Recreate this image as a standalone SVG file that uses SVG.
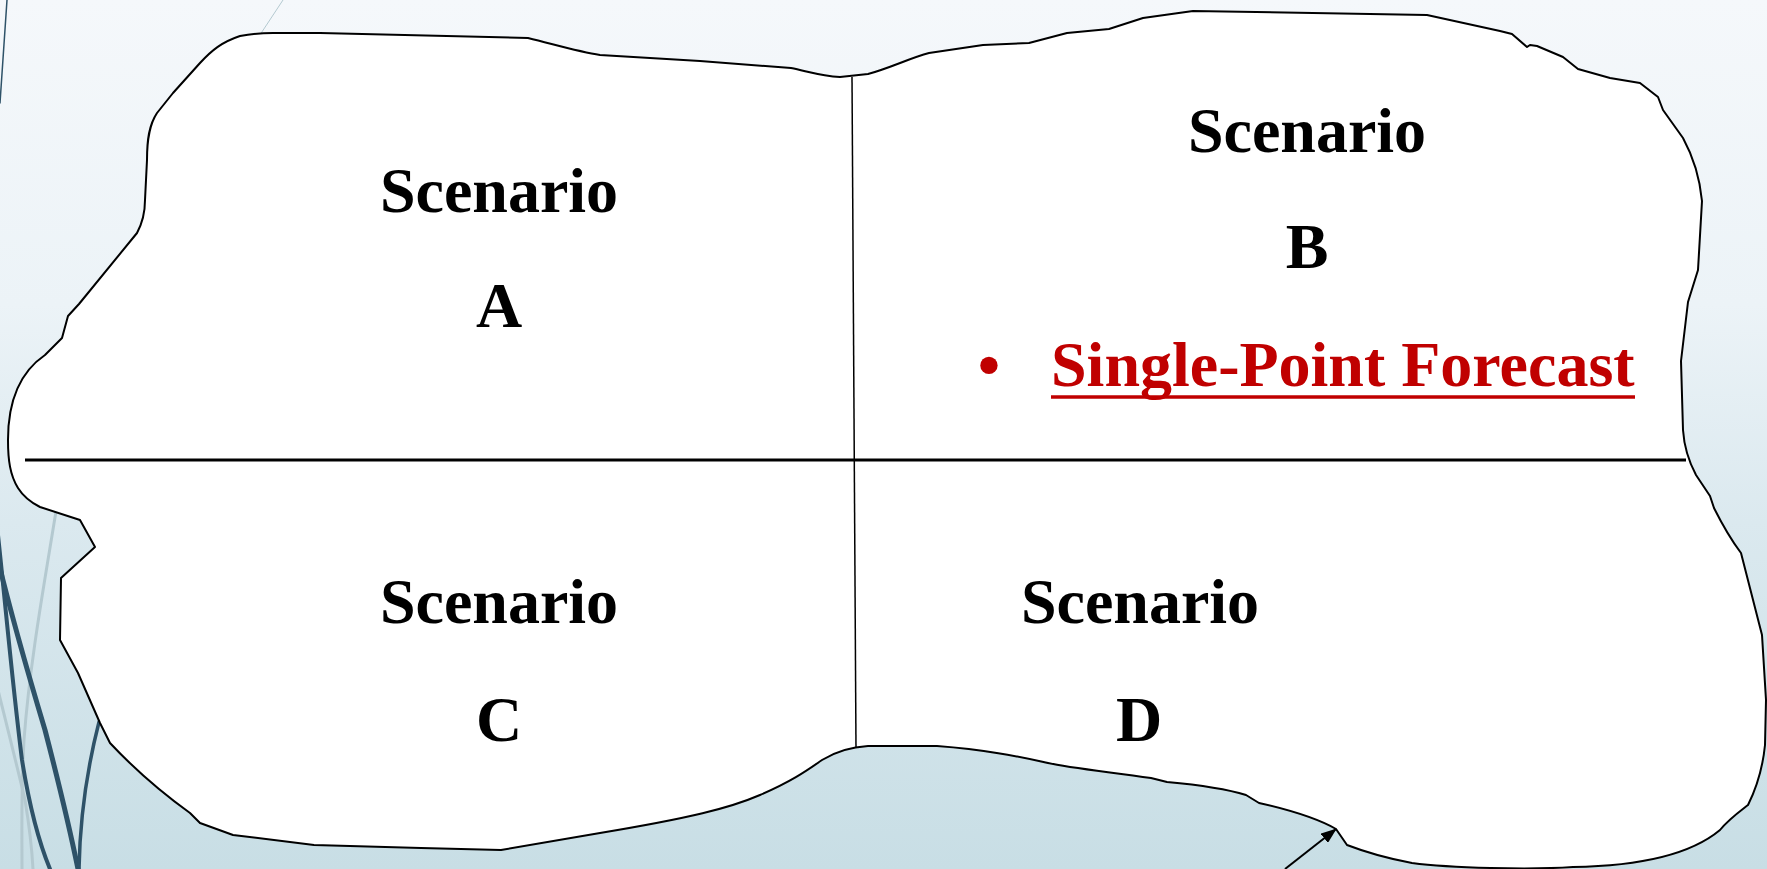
<svg xmlns="http://www.w3.org/2000/svg" width="1767" height="869" viewBox="0 0 1767 869">
  <defs>
    <linearGradient id="bg" x1="0" y1="0" x2="0" y2="1">
      <stop offset="0" stop-color="#f5f8fb"/>
      <stop offset="0.35" stop-color="#ecf3f7"/>
      <stop offset="0.6" stop-color="#dbe9ef"/>
      <stop offset="1" stop-color="#c8dee5"/>
    </linearGradient>
    <marker id="arrow" markerUnits="userSpaceOnUse" markerWidth="16" markerHeight="12" refX="15" refY="6" viewBox="0 0 16 12" orient="auto">
      <path d="M0,0 L16,6 L0,12 z" fill="#000"/>
    </marker>
    <style>
      .lbl { font-family: "Liberation Serif", "Times New Roman", serif; font-weight: bold; font-size: 64px; fill: #000; text-anchor: middle; }
      .red { font-family: "Liberation Serif", "Times New Roman", serif; font-weight: bold; font-size: 64px; fill: #c00000; }
      .deco { fill: none; stroke: #2e5268; stroke-linecap: round; }
      .decol { fill: none; stroke: #b4c9d0; stroke-linecap: round; }
    </style>
  </defs>

  <g id="background">
    <rect x="0" y="0" width="1767" height="869" fill="url(#bg)"/>
    <path class="deco" d="M7,0 L0,103" stroke-width="1.5"/>
    <path class="decol" d="M283,0 L250,50" stroke-width="1" stroke="#d3dde2"/>
    <path class="decol" d="M57,505 C45,580 30,660 24,740 C21,790 22,830 22,869" stroke-width="3"/>
    <path class="decol" d="M-2,690 C8,730 18,770 25,800 C30,830 32,850 33,869" stroke-width="3"/>
    <path class="deco" d="M-2,535 C5,600 12,680 22,760 C30,810 40,845 50,869" stroke-width="4"/>
    <path class="deco" d="M-2,560 C10,610 30,680 45,730 C58,780 70,830 78,869" stroke-width="5"/>
    <path class="deco" d="M99,722 C88,765 80,815 79,869" stroke-width="3.5"/>
  </g>

  <g id="blob">
    <path d="M320,33 L528,38 C560,46 580,52 600,55 L700,61 L791,68 C810,72 822,76 840,77 L868,74 C890,68 910,58 929,53 L983,45 L1029,43 L1067,33 L1109,29 L1143,18 L1193,11 L1427,15 L1500,31 L1512,34 L1527,47 L1530,45 L1537,46 L1563,57 L1578,69 L1610,78 L1640,83 L1658,97 L1663,110 L1683,138 C1695,160 1700,180 1702,201 L1698,270 L1688,302 L1681,361 L1683,430 C1684,445 1688,460 1696,475 L1710,496 L1714,508 C1725,530 1735,545 1741,553 L1762,635 L1766,700 L1765,745 C1763,765 1758,785 1748,805 C1735,815 1728,820 1720,830 C1690,855 1640,866 1573,867 C1530,870 1450,868 1412,863 C1385,858 1360,850 1347,845 L1336,829 C1320,820 1290,810 1259,803 L1246,795 C1230,790 1200,785 1167,782 L1151,778 C1110,772 1070,768 1048,763 C1020,757 990,750 937,746 L868,746 C850,747 835,752 822,760 C805,772 790,782 760,795 C730,808 690,818 600,833 L501,850 L421,848 L314,845 L233,835 L200,823 L190,813 C165,795 140,775 110,743 L100,723 L78,673 L72,662 L60,640 L61,578 L95,547 L80,520 L40,507 C30,502 23,496 18,488 C10,475 8,460 8,440 C8,400 20,372 45,355 L62,338 L68,316 L79,304 L137,233 C144,220 145,210 145,200 L147,160 C147,140 149,125 157,113 L173,93 L200,63 C212,50 222,42 240,36 C255,33 265,33 273,33 Z" fill="#fff" stroke="#000" stroke-width="2" stroke-linejoin="round"/>
  </g>

  <g id="dividers">
    <line x1="25" y1="460" x2="1686" y2="460" stroke="#000" stroke-width="3"/>
    <line x1="852" y1="77" x2="856" y2="748" stroke="#000" stroke-width="1.5"/>
  </g>

  <g id="scenario-a">
    <text class="lbl" x="499" y="212">Scenario</text>
    <text class="lbl" x="499" y="327">A</text>
  </g>

  <g id="scenario-b">
    <text class="lbl" x="1307" y="152">Scenario</text>
    <text class="lbl" x="1307" y="268">B</text>
    <text class="red" x="989" y="386" text-anchor="middle">•</text>
    <text class="red" x="1051" y="386">Single-Point Forecast</text>
    <line x1="1051" y1="397" x2="1635" y2="397" stroke="#c00000" stroke-width="3.5"/>
  </g>

  <g id="scenario-c">
    <text class="lbl" x="499" y="623">Scenario</text>
    <text class="lbl" x="499" y="741">C</text>
  </g>

  <g id="scenario-d">
    <text class="lbl" x="1140" y="623">Scenario</text>
    <text class="lbl" x="1139" y="741">D</text>
  </g>

  <g id="connectors">
    <line x1="1285" y1="869" x2="1336" y2="829" stroke="#000" stroke-width="2" marker-end="url(#arrow)"/>
  </g>
</svg>
